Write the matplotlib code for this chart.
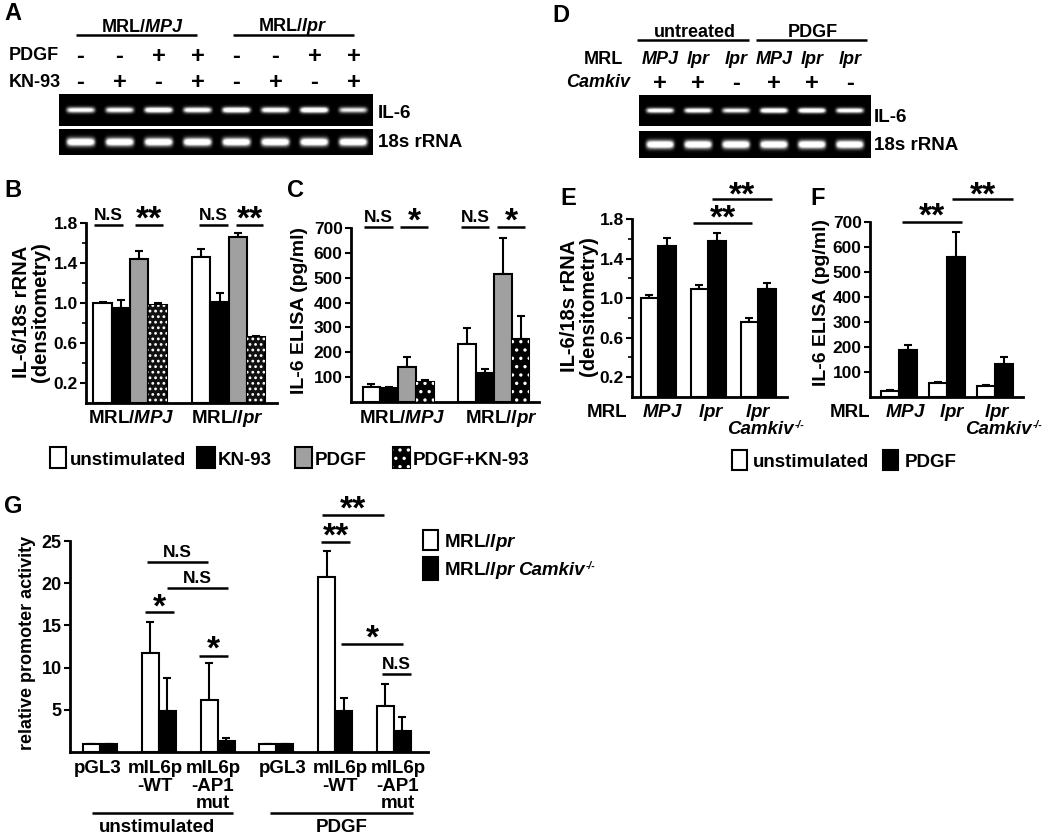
import numpy as np
import matplotlib
matplotlib.use("Agg")
import matplotlib.pyplot as plt
from matplotlib.patches import Rectangle

plt.rcParams['font.family'] = ['Liberation Sans', 'DejaVu Sans']
plt.rcParams['font.weight'] = 'bold'
plt.rcParams['mathtext.fontset'] = 'custom'
plt.rcParams['mathtext.it'] = 'Liberation Sans:italic:bold'
plt.rcParams['mathtext.rm'] = 'Liberation Sans:bold'
plt.rcParams['mathtext.bf'] = 'Liberation Sans:bold'
plt.rcParams['mathtext.sf'] = 'Liberation Sans:bold'
plt.rcParams['hatch.linewidth'] = 1.2

W, H = 1050, 835

# ---------------- data ----------------
# Panel A gel (band intensities)
A_pdgf = ['-', '-', '+', '+', '-', '-', '+', '+']
A_kn93 = ['-', '+', '-', '+', '-', '+', '-', '+']
A_il6 = [0.75, 0.75, 0.90, 0.80, 0.92, 0.82, 0.95, 0.65]
A_18s = [0.95, 0.95, 0.95, 0.95, 0.95, 0.95, 0.95, 0.95]

# Panel D gel
D_mrl = ['MPJ', 'lpr', 'lpr', 'MPJ', 'lpr', 'lpr']
D_camk = ['+', '+', '-', '+', '+', '-']
D_il6 = [0.80, 0.80, 0.70, 0.92, 0.92, 0.80]
D_18s = [0.95, 0.95, 0.95, 0.95, 0.95, 0.95]

# Panel B: IL-6/18s rRNA
B_groups = ['MRL/$\\mathit{MPJ}$', 'MRL/$\\mathit{lpr}$']
B_unstim = [1.00, 1.46]; B_unstim_err = [0.01, 0.08]
B_kn93 = [0.95, 1.01]; B_kn93_err = [0.08, 0.09]
B_pdgf = [1.44, 1.66]; B_pdgf_err = [0.08, 0.04]
B_pdgfkn = [0.98, 0.66]; B_pdgfkn_err = [0.02, 0.01]

# Panel C: IL-6 ELISA
C_unstim = [60, 234]; C_unstim_err = [12, 64]
C_kn93 = [56, 117]; C_kn93_err = [4, 16]
C_pdgf = [141, 515]; C_pdgf_err = [40, 145]
C_pdgfkn = [81, 254]; C_pdgfkn_err = [8, 92]

# Panel E
E_unstim = [1.00, 1.09, 0.76]; E_unstim_err = [0.03, 0.04, 0.04]
E_pdgf = [1.53, 1.58, 1.09]; E_pdgf_err = [0.08, 0.08, 0.06]
# Panel F
F_unstim = [24, 56, 44]; F_unstim_err = [3, 6, 4]
F_pdgf = [188, 560, 132]; F_pdgf_err = [20, 100, 28]

# Panel G
G_lpr = [1.0, 11.7, 6.15, 1.0, 20.7, 5.5]
G_lpr_err = [0, 3.7, 4.35, 0, 3.1, 2.6]
G_camk = [1.0, 4.85, 1.3, 1.0, 4.9, 2.5]
G_camk_err = [0, 3.9, 0.3, 0, 1.5, 1.6]
G_labels = [['pGL3'], ['mIL6p', '-WT'], ['mIL6p', '-AP1', 'mut'],
            ['pGL3'], ['mIL6p', '-WT'], ['mIL6p', '-AP1', 'mut']]

# ---------------- figure ----------------
fig = plt.figure(figsize=(W / 100, H / 100), dpi=100)


def ax_px(l, r, b, t):
    return fig.add_axes([l / W, 1 - b / H, (r - l) / W, (b - t) / H])


def style(ax, ls=12.5):
    for s in ['top', 'right']:
        ax.spines[s].set_visible(False)
    for s in ['left', 'bottom']:
        ax.spines[s].set_linewidth(2)
    ax.set_xticks([])
    ax.tick_params(axis='y', direction='out', length=4, width=1.5,
                   labelsize=ls, pad=2)
    for lab in ax.get_yticklabels():
        lab.set_fontweight('bold')


bw_cur = [0.2]


def bars(ax, x, vals, errs, face='white', hatch=None, ecol='k'):
    ax.bar(x, vals, width=bw_cur[0], color=face, edgecolor=ecol, lw=1.5,
           zorder=2)
    if hatch:
        ax.bar(x, vals, width=bw_cur[0], color='none', edgecolor='white',
               lw=0, hatch=hatch, zorder=3)
    ax.errorbar(x, vals, yerr=[np.zeros(len(vals)), errs], fmt='none',
                ecolor='k', elinewidth=1.5, capsize=3, capthick=1.5,
                zorder=1)


def gel(l, r, b, t, intens, thick, xlim):
    ax = ax_px(l, r, b, t)
    h = b - t
    nx, ny = 400, 80
    xs = np.linspace(xlim[0], xlim[1], nx)
    ys = np.linspace(0, h, ny)
    X, Y = np.meshgrid(xs, ys)
    img = np.zeros_like(X)
    for i, I in enumerate(intens):
        img += I * 1.5 * np.exp(-((X - i) / 0.36) ** 8) * \
            np.exp(-((Y - h / 2) / thick) ** 2)
    img = np.clip(img, 0, 1)
    ax.imshow(img, cmap='gray', vmin=0, vmax=1, aspect='auto',
              extent=(xlim[0], xlim[1], h, 0), interpolation='bilinear')
    ax.set_xlim(*xlim)
    ax.set_ylim(h, 0)
    ax.set_xticks([]); ax.set_yticks([])
    for s in ax.spines.values():
        s.set_visible(False)
    return ax


# ---- Panel A gels
A_xlim = (-0.55, 7.5)
gel(59, 373, 126, 94, A_il6, 2.8, A_xlim)
gel(59, 373, 155, 129, A_18s, 4.0, A_xlim)
# ---- Panel D gels
D_xlim = (-0.55, 5.55)
gel(639, 871, 126, 95, D_il6, 2.5, D_xlim)
gel(639, 871, 158, 131, D_18s, 4.0, D_xlim)

# ---- Panel B
axB = ax_px(86, 277, 403, 223)
gB = np.arange(len(B_groups))
bw_cur[0] = 0.186
bars(axB, gB - 1.5 * 0.186, B_unstim, B_unstim_err)
bars(axB, gB - 0.5 * 0.186, B_kn93, B_kn93_err, face='black')
bars(axB, gB + 0.5 * 0.186, B_pdgf, B_pdgf_err, face='#a0a0a0')
bars(axB, gB + 1.5 * 0.186, B_pdgfkn, B_pdgfkn_err, face='#111111',
     hatch='...')
axB.set_xlim(-0.447, 1.49)
axB.set_ylim(0, 1.8)
axB.set_yticks([0.2, 0.6, 1.0, 1.4, 1.8])
axB.set_yticks([0.4, 0.8, 1.2, 1.6], minor=True)
axB.tick_params(axis='y', which='minor', length=3, width=1.2)
style(axB)

# ---- Panel C
axC = ax_px(351, 539, 402, 228)
bw_cur[0] = 0.185
bars(axC, gB - 1.5 * 0.185, C_unstim, C_unstim_err)
bars(axC, gB - 0.5 * 0.185, C_kn93, C_kn93_err, face='black')
bars(axC, gB + 0.5 * 0.185, C_pdgf, C_pdgf_err, face='#a0a0a0')
bars(axC, gB + 1.5 * 0.185, C_pdgfkn, C_pdgfkn_err, face='black', hatch='..')
axC.set_xlim(-0.49, 1.469)
axC.set_ylim(0, 700)
axC.set_yticks([100, 200, 300, 400, 500, 600, 700])
style(axC)

# ---- Panel E
axE = ax_px(632, 787, 397, 219)
gE = np.arange(3)
bw_cur[0] = 0.35
bars(axE, gE - 0.175, E_unstim, E_unstim_err)
bars(axE, gE + 0.175, E_pdgf, E_pdgf_err, face='black')
axE.set_xlim(-0.52, 2.58)
axE.set_ylim(0, 1.8)
axE.set_yticks([0.2, 0.6, 1.0, 1.4, 1.8])
axE.set_yticks([0.4, 0.8, 1.2, 1.6], minor=True)
axE.tick_params(axis='y', which='minor', length=3, width=1.2)
style(axE)

# ---- Panel F
axF = ax_px(870, 1023, 397, 222)
bw_cur[0] = 0.365
bars(axF, gE - 0.1825, F_unstim, F_unstim_err)
bars(axF, gE + 0.1825, F_pdgf, F_pdgf_err, face='black')
axF.set_xlim(-0.604, 2.583)
axF.set_ylim(0, 700)
axF.set_yticks([100, 200, 300, 400, 500, 600, 700])
style(axF)

# ---- Panel G
axG = ax_px(70, 428, 752, 541)
gG = np.arange(6)
bw_cur[0] = 0.29
bars(axG, gG - 0.145, G_lpr, G_lpr_err)
bars(axG, gG + 0.145, G_camk, G_camk_err, face='black')
axG.set_xlim(-0.51, 5.58)
axG.set_ylim(0, 25)
axG.set_yticks([5, 10, 15, 20, 25])
style(axG, ls=13)

# ---------------- overlay for annotations ----------------
ov = fig.add_axes([0, 0, 1, 1], zorder=10)
ov.set_xlim(0, W)
ov.set_ylim(H, 0)
ov.axis('off')
ov.patch.set_alpha(0)


def T(x, y, s, size=12.5, ha='left', va='baseline', **kw):
    kw.setdefault('fontweight', 'bold')
    ov.text(x, y, s, fontsize=size, ha=ha, va=va, **kw)


def L(x0, x1, y, lw=1.8):
    ov.plot([x0, x1], [y, y], color='k', lw=lw, solid_capstyle='butt')


def S(x, yc, n, size=24):
    T(x, yc + 0.40 * size * 100 / 72, '*' * n, size=size, ha='center')


def NS(x0, x1, y, base):
    L(x0, x1, y)
    T((x0 + x1) / 2, base, 'N.S', size=12.5, ha='center')


def ST(x0, x1, y, yc, n):
    L(x0, x1, y)
    S((x0 + x1) / 2, yc, n)


def sq(x0, x1, y0, y1, face, hatch=None):
    ov.add_patch(Rectangle((x0, y0), x1 - x0, y1 - y0, facecolor=face,
                           edgecolor='k', lw=1.5))
    if hatch:
        ov.add_patch(Rectangle((x0, y0), x1 - x0, y1 - y0, facecolor='none',
                               edgecolor='white', lw=0, hatch=hatch))


def camk(xr, y, size=12.5):
    # italic "Camkiv" ending at xr, with small "-/-" superscript after it
    T(xr, y, 'Camkiv', size=size, ha='right', fontstyle='italic')
    T(xr + 0.5, y - 6, '-/-', size=size * 0.55, ha='left', fontstyle='italic')


# Panel letters
T(4, 20, 'A', size=17)
T(4, 197, 'B', size=17)
T(287, 197, 'C', size=17)
T(552, 22, 'D', size=17)
T(560, 205, 'E', size=17)
T(810, 205, 'F', size=17)
T(4, 513, 'G', size=17)

# Panel A labels
A_lane_px = [59 + (i - A_xlim[0]) * 314 / (A_xlim[1] - A_xlim[0]) for i in range(8)]
T(143, 32, 'MRL/$\\mathit{MPJ}$', size=13, ha='center')
L(76, 197, 35)
T(293, 31, 'MRL/$\\mathit{lpr}$', size=13, ha='center')
L(233, 354, 35)
T(9, 60, 'PDGF', size=13)
T(9, 87, 'KN-93', size=13)
for xp, p, k in zip(A_lane_px, A_pdgf, A_kn93):
    T(xp, 54, p, size=17, ha='center', va='center_baseline')
    T(xp, 80, k, size=17, ha='center', va='center_baseline')
T(378, 118, 'IL-6', size=13.5)
T(378, 147, '18s rRNA', size=13.5)

# Panel D labels
D_lane_px = [639 + (i - D_xlim[0]) * 232 / (D_xlim[1] - D_xlim[0]) for i in range(6)]
T(695, 37, 'untreated', size=13, ha='center')
L(637, 749, 40)
T(813, 37, 'PDGF', size=13, ha='center')
L(756, 867, 40)
T(623, 64, 'MRL', size=13, ha='right')
T(630, 87, 'Camkiv', size=13, ha='right', fontstyle='italic')
for xp, m, c in zip(D_lane_px, D_mrl, D_camk):
    T(xp, 64, m, size=13, ha='center', fontstyle='italic')
    T(xp, 81, c, size=17, ha='center', va='center_baseline')
T(874, 122, 'IL-6', size=13.5)
T(874, 150, '18s rRNA', size=13.5)

# Panel B labels
T(31, 312, 'IL-6/18s rRNA\n(densitometry)', size=14.5, ha='center',
  va='center', rotation=90, linespacing=1.0)
T(131, 423, B_groups[0], size=13.5, ha='center')
T(227, 423, B_groups[1], size=13.5, ha='center')
NS(94, 123, 225, 220)
ST(135, 163, 225, 215, 2)
NS(199, 228, 225, 220)
ST(236, 263, 225, 215, 2)

# Panel C labels
T(299, 311, 'IL-6 ELISA (pg/ml)', size=14, ha='center', va='center',
  rotation=90)
T(402, 423, B_groups[0], size=13.5, ha='center')
T(501, 423, B_groups[1], size=13.5, ha='center')
NS(364, 393, 227, 222)
ST(400, 428, 227, 217, 1)
NS(461, 489, 227, 222)
ST(497, 525, 227, 217, 1)

# Legend B/C
sq(50, 66, 447, 468, 'white')
T(70, 465, 'unstimulated', size=13.5)
sq(197, 215, 447, 468, 'black')
T(218, 465, 'KN-93', size=13.5)
sq(295, 312, 447, 468, '#a0a0a0')
T(315, 465, 'PDGF', size=13.5)
sq(393, 410, 447, 468, 'black', hatch='..')
T(413, 465, 'PDGF+KN-93', size=13.5)

# Panel E labels
T(579, 306, 'IL-6/18s rRNA\n(densitometry)', size=14.5, ha='center',
  va='center', rotation=90, linespacing=1.0)
E_xl = ['$\\mathit{MPJ}$', '$\\mathit{lpr}$', '$\\mathit{lpr}$']
T(607, 417, 'MRL', size=13.5, ha='center')
for xp, s in zip([662, 711, 758], E_xl):
    T(xp, 417, s, size=13.5, ha='center')
camk(794, 434, size=13.5)
ST(712, 772, 199, 191, 2)
ST(693, 752, 223, 214, 2)

# Panel F labels
T(822, 302, 'IL-6 ELISA (pg/ml)', size=14, ha='center', va='center',
  rotation=90)
T(850, 417, 'MRL', size=13.5, ha='center')
for xp, s in zip([905, 952, 997], E_xl):
    T(xp, 417, s, size=13.5, ha='center')
camk(1032, 434, size=13.5)
ST(952, 1013, 199, 191, 2)
ST(902, 962, 222, 212, 2)

# Legend E/F
sq(732, 747, 450, 470, 'white')
T(753, 467, 'unstimulated', size=13.5)
sq(883, 898, 450, 470, 'black')
T(905, 467, 'PDGF', size=13.5)

# Panel G labels
T(28, 643, 'relative promoter activity', size=13, ha='center', va='center',
  rotation=90)
G_lab_x = [98, 155, 213, 283, 340, 398]
for xp, lines in zip(G_lab_x, G_labels):
    for j, s in enumerate(lines):
        T(xp, [773, 791, 808][j], s, size=13.5, ha='center')
L(92, 233, 813)
T(157, 832, 'unstimulated', size=13.5, ha='center')
L(270, 413, 813)
T(342, 832, 'PDGF', size=13.5, ha='center')

NS(147, 208, 562, 557)
NS(167, 228, 588, 583)
ST(145, 174, 612, 603, 1)
ST(199, 228, 656, 645, 1)
ST(322, 384, 515, 505, 2)
ST(321, 350, 542, 532, 2)
ST(341, 403, 644, 634, 1)
NS(382, 411, 674, 669)

# Legend G
sq(423, 438, 530, 550, 'white')
T(444, 547, 'MRL/$\\mathit{lpr}$', size=13.5)
sq(423, 438, 557, 580, 'black')
T(444, 575, 'MRL/$\\mathit{lpr}$', size=13.5)
camk(585, 575, size=13.5)

fig.savefig('out.png', dpi=100)
